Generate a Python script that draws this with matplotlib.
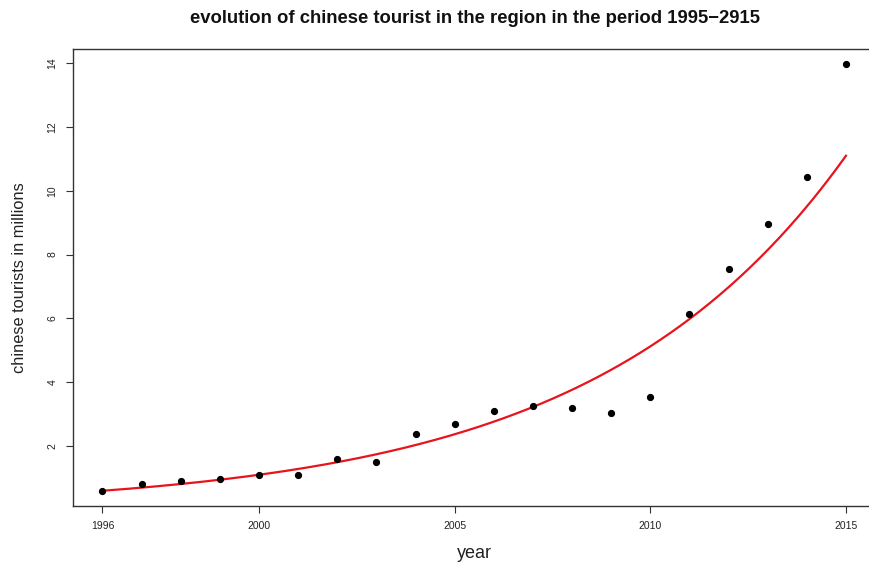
import numpy as np
import matplotlib.pyplot as plt

plt.rcParams['font.family'] = ['Liberation Sans', 'DejaVu Sans']

# visitors per year (millions)
years = [1996, 1997, 1998, 1999, 2000, 2001, 2002, 2003, 2004, 2005,
         2006, 2007, 2008, 2009, 2010, 2011, 2012, 2013, 2014, 2015]
tourists = [0.59, 0.80, 0.88, 0.94, 1.08, 1.09, 1.59, 1.50, 2.38, 2.67,
            3.08, 3.24, 3.18, 3.02, 3.53, 6.13, 7.53, 8.96, 10.44, 13.97]

# exponential trend y = a * exp(b * (year - 1996))
fit_a = 0.585
fit_b = 0.1549

x_ticks = [1996, 2000, 2005, 2010, 2015]
y_ticks = [2, 4, 6, 8, 10, 12, 14]

fig = plt.figure(figsize=(8.69, 5.72), dpi=100)
ax = fig.add_axes([0.0837, 0.1154, 0.924, 0.7989])

xs = np.linspace(years[0], years[-1], 300)
ax.plot(xs, fit_a * np.exp(fit_b * (xs - years[0])), color='#e8141c', lw=1.6, zorder=2)
ax.plot(years, tourists, 'o', color='black', markersize=4.2, zorder=3)

ax.set_xlim(1995.24, 2015.76)
ax.set_ylim(0.107, 14.45)
ax.set_xticks(x_ticks)
ax.set_yticks(y_ticks)
ax.tick_params(axis='both', direction='out', length=5, width=0.8, labelsize=7.5,
               color='#333333', labelcolor='#222222')
ax.tick_params(axis='x', pad=6)
ax.tick_params(axis='y', pad=6)
for lab in ax.get_yticklabels():
    lab.set_rotation(90)
    lab.set_va('center')

for s in ax.spines.values():
    s.set_linewidth(1.0)
    s.set_color('#333333')

ax.set_xlabel('year', fontsize=13, color='#222222', labelpad=10)
fig.text(0.023, 0.515, 'chinese tourists in millions', rotation=90,
         fontsize=11.8, color='#222222', ha='center', va='center')
fig.text(0.5465, 0.968, 'evolution of chinese tourist in the region in the period 1995\u22122915',
         fontsize=13.3, fontweight='bold', ha='center', va='center', color='#111111')

fig.savefig('out.png', dpi=100)
